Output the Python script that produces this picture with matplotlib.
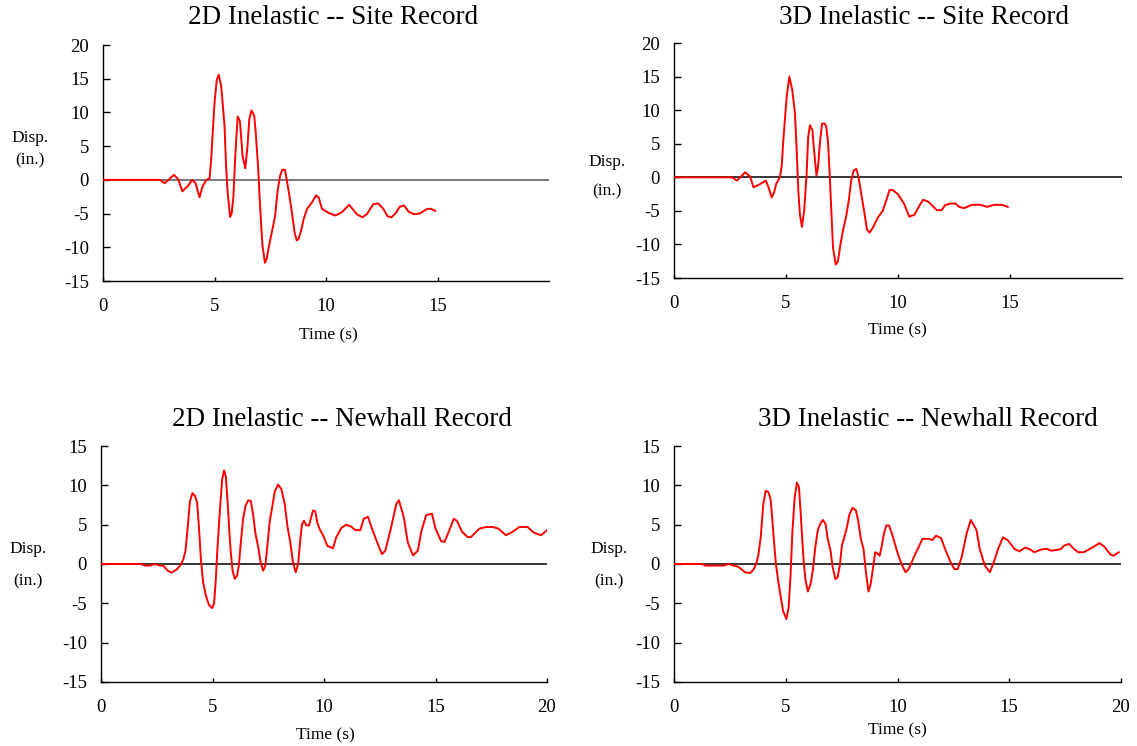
import numpy as np
import matplotlib
matplotlib.use("Agg")
import matplotlib.pyplot as plt

plt.rcParams['font.family'] = ['Liberation Serif', 'DejaVu Serif']
plt.rcParams['axes.unicode_minus'] = False

W, H = 1137, 746

# --- 2D inelastic, site record
t_2d_site = [0, 2.55, 2.77, 3.18, 3.37, 3.56, 3.81, 4.0, 4.15, 4.33, 4.45, 4.63, 4.78, 4.85,
             4.93, 5.0, 5.1, 5.19, 5.3, 5.45, 5.52, 5.59, 5.7, 5.77, 5.85, 5.93, 6.04, 6.14,
             6.26, 6.38, 6.48, 6.56, 6.66, 6.78, 6.85, 6.96, 7.05, 7.15, 7.26, 7.34, 7.45,
             7.6, 7.72, 7.82, 7.94, 8.04, 8.16, 8.26, 8.37, 8.49, 8.59, 8.69, 8.78, 8.9,
             9.0, 9.15, 9.38, 9.55, 9.67, 9.82, 10.12, 10.42, 10.71, 11.04, 11.38, 11.63,
             11.83, 12.12, 12.34, 12.57, 12.76, 12.94, 13.16, 13.3, 13.5, 13.7, 13.94,
             14.2, 14.54, 14.72, 14.9]
d_2d_site = [0, 0, -0.5, 0.74, 0.1, -1.7, -0.9, 0, -0.5, -2.6, -1.1, 0, 0.2, 3,
             7.5, 11.4, 14.8, 15.6, 13.9, 8, 2, -1.9, -5.5, -5, -2.4, 3.5, 9.4, 8.7,
             3.5, 1.7, 5, 9, 10.3, 9.5, 7, 1.6, -4.3, -9.7, -12.3, -11.7, -9.7,
             -7.3, -5.3, -1.9, 0.6, 1.5, 1.5, -0.4, -2.6, -5.3, -7.8, -9, -8.7, -7.3,
             -5.8, -4.3, -3.3, -2.3, -2.6, -4.3, -4.9, -5.3, -4.8, -3.7, -5.1, -5.55,
             -5.1, -3.6, -3.5, -4.3, -5.4, -5.55, -4.8, -4.0, -3.8, -4.7, -5.1,
             -5.0, -4.3, -4.3, -4.6]

# --- 3D inelastic, site record
t_3d_site = [0, 2.59, 2.81, 3.18, 3.4, 3.55, 3.85, 4.1, 4.22, 4.36, 4.47, 4.56, 4.73, 4.81,
             4.88, 4.96, 5.03, 5.15, 5.28, 5.4, 5.47, 5.55, 5.62, 5.71, 5.81, 5.92, 5.99,
             6.07, 6.18, 6.24, 6.36, 6.43, 6.51, 6.61, 6.73, 6.8, 6.88, 6.95, 7.03, 7.1,
             7.22, 7.32, 7.43, 7.54, 7.69, 7.8, 7.91, 8.02, 8.14, 8.24, 8.36, 8.51, 8.61,
             8.73, 8.88, 9.1, 9.32, 9.47, 9.62, 9.76, 9.99, 10.28, 10.5, 10.73, 10.95,
             11.12, 11.36, 11.54, 11.73, 11.95, 12.1, 12.35, 12.57, 12.72, 12.94, 13.31,
             13.68, 13.98, 14.28, 14.64, 14.9]
d_3d_site = [0, 0, -0.5, 0.75, 0.1, -1.5, -1.0, -0.5, -1.5, -3, -2.25, -1, 0, 1.75,
             5.5, 9, 12, 15.0, 13, 9.5, 4.5, -2, -5.5, -7.4, -5, 0.5, 6,
             7.75, 7, 4.5, 0.25, 1.5, 5, 8, 8, 7.5, 5, 0.5, -5.5, -10.5,
             -13.0, -12.5, -10, -8, -5.75, -3.5, -0.5, 1, 1.25, 0, -2.5, -5.5, -7.75,
             -8.25, -7.5, -6, -5, -3.5, -1.9, -1.9, -2.5, -4, -5.85, -5.6, -4.25,
             -3.35, -3.65, -4.25, -4.9, -4.9, -4.15, -3.9, -3.9, -4.4, -4.6, -4.1,
             -4.1, -4.4, -4.1, -4.1, -4.4]

# --- 2D inelastic, Newhall record
t_2d_new = [0, 1.82, 1.97, 2.19, 2.42, 2.64, 2.79, 2.99, 3.16, 3.39, 3.58, 3.69, 3.79, 3.88,
            3.99, 4.1, 4.21, 4.31, 4.39, 4.48, 4.58, 4.7, 4.84, 4.99, 5.07, 5.15, 5.22,
            5.33, 5.43, 5.52, 5.6, 5.67, 5.75, 5.82, 5.9, 6.0, 6.1, 6.18, 6.27, 6.37,
            6.48, 6.6, 6.72, 6.82, 6.93, 7.04, 7.16, 7.27, 7.37, 7.46, 7.57, 7.67, 7.79,
            7.94, 8.09, 8.24, 8.36, 8.49, 8.61, 8.73, 8.84, 8.94, 9.01, 9.1, 9.21, 9.33,
            9.43, 9.51, 9.61, 9.7, 9.81, 9.96, 10.15, 10.4, 10.55, 10.78, 11.0, 11.22,
            11.4, 11.63, 11.78, 11.97, 12.19, 12.42, 12.6, 12.75, 12.99, 13.24, 13.36,
            13.58, 13.76, 13.99, 14.21, 14.36, 14.58, 14.84, 14.99, 15.25, 15.4, 15.58,
            15.82, 15.96, 16.19, 16.45, 16.6, 16.97, 17.27, 17.57, 17.82, 18.16, 18.46,
            18.76, 19.13, 19.4, 19.73, 20.0]
d_2d_new = [0, 0, -0.2, -0.2, 0, -0.2, -0.2, -0.85, -1.1, -0.7, -0.1, 0.6, 1.7, 4.4,
            8, 9, 8.7, 7.8, 4.8, 0.6, -2.3, -4, -5.2, -5.6, -5, -1.9, 1.9,
            6.7, 10.7, 11.9, 11.1, 8.2, 4.4, 1.5, -0.85, -1.9, -1.5, -0.2, 2.7, 5.7,
            7.4, 8.1, 8, 6.3, 3.8, 2.3, 0.2, -0.85, -0.2, 2.3, 5.5, 7.1, 9.2,
            10.1, 9.5, 7.6, 4.8, 2.7, 0.2, -1.05, 0, 3.15, 5, 5.5, 4.9, 4.9,
            6, 6.8, 6.7, 5.25, 4.4, 3.65, 2.3, 2, 3.4, 4.6, 5.0, 4.75,
            4.3, 4.3, 5.75, 6, 4.2, 2.5, 1.25, 1.7, 4.4, 7.6, 8.1,
            5.9, 2.7, 1.1, 1.7, 4.1, 6.2, 6.4, 4.6, 2.9, 2.8, 4,
            5.75, 5.5, 4.1, 3.4, 3.45, 4.5, 4.7, 4.7, 4.5, 3.65, 4.1,
            4.7, 4.7, 4.0, 3.65, 4.3]

# --- 3D inelastic, Newhall record
t_3d_new = [0, 1.26, 1.4, 2.22, 2.44, 2.66, 2.88, 3.18, 3.4, 3.55, 3.67, 3.77, 3.88, 3.99,
            4.1, 4.22, 4.32, 4.39, 4.47, 4.56, 4.66, 4.78, 4.88, 5.03, 5.13, 5.21, 5.3,
            5.4, 5.5, 5.59, 5.67, 5.74, 5.81, 5.89, 5.99, 6.11, 6.21, 6.32, 6.43, 6.54,
            6.66, 6.78, 6.88, 7.0, 7.1, 7.22, 7.32, 7.43, 7.51, 7.62, 7.74, 7.84, 7.99,
            8.14, 8.24, 8.36, 8.48, 8.58, 8.7, 8.8, 8.91, 9.0, 9.1, 9.2, 9.29, 9.39,
            9.5, 9.62, 9.73, 9.84, 9.99, 10.18, 10.36, 10.5, 10.8, 11.12, 11.39, 11.57,
            11.72, 11.95, 12.13, 12.35, 12.54, 12.69, 12.87, 13.09, 13.28, 13.53, 13.68,
            13.91, 14.13, 14.28, 14.5, 14.72, 14.94, 15.24, 15.46, 15.71, 15.9, 16.12,
            16.5, 16.72, 16.86, 17.16, 17.31, 17.46, 17.68, 17.9, 18.08, 18.34, 18.72,
            19.04, 19.26, 19.53, 19.67, 19.9]
d_3d_new = [0, 0, -0.2, -0.2, 0, -0.2, -0.35, -1.05, -1.15, -0.75, 0, 1.05, 3.4, 7.45,
            9.3, 9.15, 8.3, 6, 3, 0, -2.1, -4.25, -6, -7, -5.5, -1.7, 4.25,
            8.5, 10.35, 9.8, 6.4, 3, 0, -2.1, -3.5, -2.55, -0.85, 2.1, 4.25, 5.1,
            5.6, 5.1, 3.2, 1.7, -0.4, -1.9, -1.7, 0, 2.35, 3.4, 4.7, 6.2, 7.15,
            6.8, 5.5, 3.2, 1.9, -0.85, -3.5, -2.55, -0.4, 1.5, 1.35, 1.05, 2.2, 3.85,
            4.9, 4.9, 4.05, 3, 1.5, 0, -1.05, -0.65, 1.3, 3.2, 3.2, 3.05,
            3.6, 3.3, 1.9, 0.4, -0.65, -0.65, 0.85, 3.85, 5.6, 4.35, 1.9,
            -0.2, -1.05, 0, 1.9, 3.4, 3.0, 1.9, 1.6, 2.1, 1.9, 1.5,
            1.9, 1.9, 1.7, 1.8, 1.9, 2.35, 2.55, 1.9, 1.5, 1.5, 2.1,
            2.65, 2.2, 1.2, 1.05, 1.5]

site_xticks = [0, 5, 10, 15]
new_xticks = [0, 5, 10, 15, 20]
site_yticks = [-15, -10, -5, 0, 5, 10, 15, 20]
new_yticks = [-15, -10, -5, 0, 5, 10, 15]

panels = [
    # axes box in px (left, top, right, bottom); text centres in px
    dict(t=t_2d_site, d=d_2d_site, box=(103, 45, 549, 281), ylim=(-15, 20),
         yt=site_yticks, xt=site_xticks, title='2D Inelastic -- Site Record',
         tpos=(333, 17), disp=(30, 138), inch=(30, 160), time=(328, 335), zc='#555555'),
    dict(t=t_3d_site, d=d_3d_site, box=(674, 43, 1122, 278), ylim=(-15, 20),
         yt=site_yticks, xt=site_xticks, title='3D Inelastic -- Site Record',
         tpos=(924, 18), disp=(607, 162), inch=(607, 191), time=(897, 330), zc='black'),
    dict(t=t_2d_new, d=d_2d_new, box=(101, 446, 547, 682), ylim=(-15, 15),
         yt=new_yticks, xt=new_xticks, title='2D Inelastic -- Newhall Record',
         tpos=(342, 419), disp=(28, 549), inch=(28, 581), time=(325, 735), zc='black'),
    dict(t=t_3d_new, d=d_3d_new, box=(674, 446, 1121, 682), ylim=(-15, 15),
         yt=new_yticks, xt=new_xticks, title='3D Inelastic -- Newhall Record',
         tpos=(928, 419), disp=(609, 549), inch=(609, 581), time=(897, 730), zc='black'),
]

fig = plt.figure(figsize=(W / 100, H / 100), dpi=100)

for p in panels:
    l, t, r, b = p['box']
    ax = fig.add_axes([l / W, 1 - b / H, (r - l) / W, (b - t) / H])
    ax.plot(p['t'], p['d'], color='red', lw=1.4, zorder=3)
    ax.axhline(0, color=p['zc'], lw=1.1, zorder=2)
    ax.set_xlim(0, 20)
    ax.set_ylim(*p['ylim'])
    ax.set_xticks(p['xt'])
    ax.set_yticks(p['yt'])
    for s in ['top', 'right']:
        ax.spines[s].set_visible(False)
    for s in ['left', 'bottom']:
        ax.spines[s].set_linewidth(1.0)
    ax.tick_params(axis='y', direction='in', length=5, width=1, pad=10, labelsize=13.5)
    ax.tick_params(axis='x', direction='in', length=3, width=1, pad=12, labelsize=13.5)
    ax.patch.set_alpha(0)

    fig.text(p['tpos'][0] / W, 1 - p['tpos'][1] / H, p['title'], fontsize=19.5,
             ha='center', va='center')
    fig.text(p['disp'][0] / W, 1 - p['disp'][1] / H, 'Disp.', fontsize=12.5,
             ha='center', va='center')
    fig.text(p['inch'][0] / W, 1 - p['inch'][1] / H, '(in.)', fontsize=12.5,
             ha='center', va='center')
    fig.text(p['time'][0] / W, 1 - p['time'][1] / H, 'Time (s)', fontsize=12.5,
             ha='center', va='center')

fig.savefig('out.png', dpi=100)
